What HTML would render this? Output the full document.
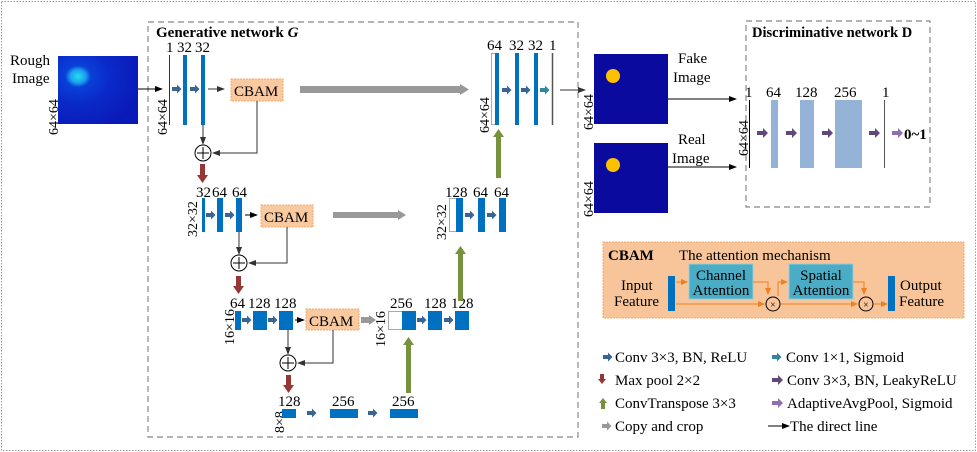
<!DOCTYPE html>
<html><head><meta charset="utf-8"><style>
html,body{margin:0;padding:0;background:#fff}
svg{display:block;font-family:"Liberation Serif",serif}
</style></head><body>
<svg width="977" height="452" viewBox="0 0 977 452" xmlns="http://www.w3.org/2000/svg">
<defs>
<marker id="ah" markerWidth="8" markerHeight="6" refX="7" refY="3" orient="auto" markerUnits="userSpaceOnUse"><path d="M0,0 L8,3 L0,6z" fill="#000"/></marker>
<marker id="ahg" markerWidth="8" markerHeight="6" refX="7" refY="3" orient="auto" markerUnits="userSpaceOnUse"><path d="M0,0 L8,3 L0,6z" fill="#333"/></marker>
<marker id="aho" markerWidth="7" markerHeight="6" refX="6" refY="3" orient="auto" markerUnits="userSpaceOnUse"><path d="M0,0 L7,3 L0,6z" fill="#f07f1e"/></marker>
<g id="rb"><path d="M0,-2 h5 v-2.5 l4.5,4.5 l-4.5,4.5 v-2.5 h-5z" fill="#3a6494"/></g>
<g id="tb"><path d="M0,-2 h5 v-2.5 l4.5,4.5 l-4.5,4.5 v-2.5 h-5z" fill="#31859c"/></g>
<g id="pb"><path d="M0,-2 h6 v-3 l5,5 l-5,5 v-3 h-6z" fill="#60497a"/></g>
<g id="lb"><path d="M0,-2 h6 v-3 l5,5 l-5,5 v-3 h-6z" fill="#8e6fb0"/></g>
</defs>
<rect x="1.5" y="1.5" width="974" height="449" fill="none" stroke="#999" stroke-dasharray="1.5,1.5"/>
<rect x="148" y="22" width="430" height="415" fill="none" stroke="#888" stroke-width="1.2" stroke-dasharray="6,4"/>
<rect x="746" y="21" width="184" height="186" fill="none" stroke="#888" stroke-width="1.2" stroke-dasharray="6,4"/>
<g font-size="15"><text x="156" y="37" font-weight="bold">Generative network  <tspan font-style="italic">G</tspan></text>
<text x="752" y="37" font-weight="bold" font-size="14.5">Discriminative network  D</text></g>

<defs><radialGradient id="rg" cx="0.25" cy="0.3" r="0.8"><stop offset="0" stop-color="#26e0e8"/><stop offset="0.12" stop-color="#1aa0f0"/><stop offset="0.2" stop-color="#0a40d8"/><stop offset="0.5" stop-color="#0a2ac8"/><stop offset="1" stop-color="#0a1ab8"/></radialGradient></defs>
<rect x="58" y="56" width="80" height="68" fill="url(#rg)"/>
<g font-size="15"><text x="10" y="65">Rough</text><text x="12" y="83">Image</text></g>
<g font-size="14">
<text transform="translate(58,135) rotate(-90)">64×64</text>
<text transform="translate(167,135) rotate(-90)">64×64</text>
<text transform="translate(197,237) rotate(-90)">32×32</text>
<text transform="translate(234,345) rotate(-90)">16×16</text>
<text transform="translate(284,433) rotate(-90)">8×8</text>
<text transform="translate(385,347) rotate(-90)">16×16</text>
<text transform="translate(446,240) rotate(-90)">32×32</text>
<text transform="translate(489,133) rotate(-90)">64×64</text>
<text transform="translate(593,130) rotate(-90)">64×64</text>
<text transform="translate(593,217) rotate(-90)">64×64</text>
<text transform="translate(748,156) rotate(-90)">64×64</text>
</g>
<line x1="138" y1="89" x2="162" y2="89" stroke="#000" marker-end="url(#ah)"/>

<!-- level1 left -->
<line x1="169.5" y1="55" x2="169.5" y2="125" stroke="#333"/>
<rect x="183" y="55" width="4" height="70" fill="#0070c0"/>
<rect x="201" y="55" width="4" height="70" fill="#0070c0"/>
<g font-size="15"><text x="166" y="52">1</text><text x="177" y="52">32</text><text x="195" y="52">32</text></g>
<use href="#rb" x="172" y="89"/><use href="#rb" x="190" y="89"/>
<line x1="208" y1="89" x2="224" y2="89" stroke="#333" marker-end="url(#ahg)"/>
<rect x="231" y="79" width="52" height="22" fill="#f9c9a0" stroke="#f5a86a" stroke-dasharray="2,1"/>
<text x="234" y="96" font-size="15">CBAM</text>
<rect x="300" y="86" width="160" height="7" fill="#999"/><path d="M460,84 l9,5.5 l-9,5.5z" fill="#999"/>
<line x1="203" y1="125" x2="203" y2="144" stroke="#333" marker-end="url(#ahg)"/>
<circle cx="203" cy="153" r="8" fill="#fff" stroke="#000"/><path d="M197,153 h12 M203,147 v12" stroke="#000"/>
<path d="M257,101 V153 H213" fill="none" stroke="#333" marker-end="url(#ahg)"/>
<rect x="200" y="164" width="5" height="12" fill="#953735"/><path d="M197,175 h11 l-5.5,8z" fill="#953735"/>

<!-- level2 left -->
<g font-size="15"><text x="196" y="197">32</text><text x="212" y="197">64</text><text x="232" y="197">64</text></g>
<rect x="202" y="198" width="3" height="34" fill="#0070c0"/>
<rect x="217" y="198" width="6" height="34" fill="#0070c0"/>
<rect x="236" y="198" width="6" height="34" fill="#0070c0"/>
<use href="#rb" x="206" y="215"/><use href="#rb" x="225" y="215"/>
<line x1="245" y1="215" x2="257" y2="215" stroke="#000" marker-end="url(#ah)"/>
<rect x="261" y="205" width="52" height="22" fill="#f9c9a0" stroke="#f5a86a" stroke-dasharray="2,1"/>
<text x="264" y="222" font-size="15">CBAM</text>
<rect x="333" y="212" width="66" height="6" fill="#999"/><path d="M398,210 l8,5 l-8,5z" fill="#999"/>
<line x1="239" y1="232" x2="239" y2="254" stroke="#333" marker-end="url(#ahg)"/>
<circle cx="239" cy="263" r="8" fill="#fff" stroke="#000"/><path d="M233,263 h12 M239,257 v12" stroke="#000"/>
<path d="M287,227 V263 H249" fill="none" stroke="#333" marker-end="url(#ahg)"/>
<rect x="236" y="276" width="5" height="11" fill="#953735"/><path d="M233,286 h11 l-5.5,8z" fill="#953735"/>

<!-- level3 -->
<g font-size="15"><text x="230" y="308">64</text><text x="248" y="308">128</text><text x="274" y="308">128</text></g>
<rect x="235" y="311" width="6" height="19" fill="#0070c0"/>
<rect x="253" y="311" width="14" height="19" fill="#0070c0"/>
<rect x="279" y="311" width="14" height="19" fill="#0070c0"/>
<use href="#rb" x="242" y="320"/><use href="#rb" x="268" y="320"/>
<line x1="295" y1="320" x2="304" y2="320" stroke="#000" marker-end="url(#ah)"/>
<rect x="306" y="309" width="53" height="21" fill="#f9c9a0" stroke="#f5a86a" stroke-dasharray="2,1"/>
<text x="309" y="326" font-size="15">CBAM</text>
<rect x="361" y="317" width="9" height="6" fill="#999"/><path d="M369,315 l7,5 l-7,5z" fill="#999"/>
<line x1="288" y1="330" x2="288" y2="354" stroke="#333" marker-end="url(#ahg)"/>
<circle cx="288" cy="363" r="8" fill="#fff" stroke="#000"/><path d="M282,363 h12 M288,357 v12" stroke="#000"/>
<path d="M333,330 V363 H298" fill="none" stroke="#333" marker-end="url(#ahg)"/>
<rect x="286" y="375" width="5" height="11" fill="#953735"/><path d="M283,385 h11 l-5.5,8z" fill="#953735"/>
<g font-size="15"><text x="390" y="308">256</text><text x="424" y="308">128</text><text x="451" y="308">128</text></g>
<rect x="388.5" y="311.5" width="14" height="18" fill="#fff" stroke="#aaa"/>
<rect x="402" y="311" width="14" height="19" fill="#0070c0"/>
<rect x="428" y="311" width="14" height="19" fill="#0070c0"/>
<rect x="455" y="311" width="14" height="19" fill="#0070c0"/>
<use href="#rb" x="417" y="320"/><use href="#rb" x="444" y="320"/>

<!-- level4 -->
<g font-size="15"><text x="278" y="406">128</text><text x="332" y="406">256</text><text x="392" y="406">256</text></g>
<rect x="282" y="409" width="14" height="9" fill="#0070c0"/>
<rect x="330" y="409" width="28" height="9" fill="#0070c0"/>
<rect x="390" y="409" width="28" height="9" fill="#0070c0"/>
<use href="#rb" x="307" y="413"/><use href="#rb" x="368" y="413"/>
<rect x="406" y="344" width="5" height="49" fill="#76923c"/><path d="M403,345 h11 l-5.5,-8z" fill="#76923c"/>

<!-- level2 right -->
<g font-size="15"><text x="445" y="197">128</text><text x="473" y="197">64</text><text x="494" y="197">64</text></g>
<rect x="449.5" y="198.5" width="7" height="33" fill="#fff" stroke="#aaa"/>
<rect x="456" y="198" width="7" height="34" fill="#0070c0"/>
<rect x="478" y="198" width="7" height="34" fill="#0070c0"/>
<rect x="499" y="198" width="7" height="34" fill="#0070c0"/>
<use href="#rb" x="465" y="215"/><use href="#rb" x="487" y="215"/>
<rect x="458" y="253" width="5" height="48" fill="#76923c"/><path d="M455,254 h11 l-5.5,-8z" fill="#76923c"/>
<rect x="496" y="136" width="5" height="42" fill="#76923c"/><path d="M493,137 h11 l-5.5,-8z" fill="#76923c"/>

<!-- level1 right -->
<g font-size="15"><text x="487" y="50">64</text><text x="509" y="50">32</text><text x="528" y="50">32</text><text x="549" y="50">1</text></g>
<rect x="491.5" y="53.5" width="6" height="71" fill="#fff" stroke="#aaa"/>
<rect x="495" y="53" width="4" height="72" fill="#0070c0"/>
<rect x="515" y="53" width="4" height="72" fill="#0070c0"/>
<rect x="534" y="53" width="4" height="72" fill="#0070c0"/>
<line x1="552.5" y1="53" x2="552.5" y2="125" stroke="#555" stroke-width="1.5"/>
<use href="#rb" x="502" y="90"/><use href="#rb" x="521" y="90"/><use href="#tb" x="540" y="90"/>
<line x1="560" y1="90" x2="585" y2="90" stroke="#333" marker-end="url(#ahg)"/>

<!-- fake/real -->
<rect x="594" y="54" width="74" height="70" fill="#0a0a9e"/><circle cx="613" cy="76" r="7" fill="#ffc000"/>
<rect x="594" y="143" width="74" height="70" fill="#0a0a9e"/><circle cx="613" cy="165" r="7" fill="#ffc000"/>
<g font-size="15"><text x="678" y="63">Fake</text><text x="673" y="82">Image</text><text x="678" y="144">Real</text><text x="672" y="163">Image</text></g>
<line x1="668" y1="99" x2="736" y2="99" stroke="#000" marker-end="url(#ah)"/>
<line x1="668" y1="167" x2="736" y2="167" stroke="#000" marker-end="url(#ah)"/>

<!-- D -->
<g font-size="15"><text x="745" y="97">1</text><text x="766" y="97">64</text><text x="795" y="97">128</text><text x="834" y="97">256</text><text x="882" y="97">1</text></g>
<line x1="749.5" y1="100" x2="749.5" y2="168" stroke="#000"/>
<rect x="771" y="100" width="7" height="68" fill="#95b3d7"/>
<rect x="800" y="100" width="14" height="68" fill="#95b3d7"/>
<rect x="835" y="100" width="27" height="68" fill="#95b3d7"/>
<line x1="884.5" y1="100" x2="884.5" y2="168" stroke="#555"/>
<use href="#pb" x="757" y="133"/><use href="#pb" x="786" y="133"/><use href="#pb" x="822" y="133"/><use href="#pb" x="869" y="133"/><use href="#lb" x="892" y="133"/>
<text x="904" y="139" font-size="15" font-weight="bold">0~1</text>

<!-- CBAM legend -->
<rect x="603" y="242" width="361" height="76" fill="#f8c59a" stroke="#f5a86a" stroke-dasharray="2,1"/>
<text x="608" y="260" font-size="15" font-weight="bold">CBAM</text>
<text x="679" y="260" font-size="15">The attention mechanism</text>
<g font-size="15"><text x="621" y="290">Input</text><text x="614" y="306">Feature</text><text x="900" y="290">Output</text><text x="899" y="306">Feature</text></g>
<rect x="668" y="276" width="7" height="35" fill="#0070c0"/>
<rect x="689" y="264" width="64" height="35" fill="#4bacc6" stroke="#8fcfdf"/>
<rect x="789" y="264" width="64" height="35" fill="#4bacc6" stroke="#8fcfdf"/>
<g font-size="15" text-anchor="middle"><text x="721" y="280">Channel</text><text x="721" y="295">Attention</text><text x="821" y="280">Spatial</text><text x="821" y="295">Attention</text></g>
<g stroke="#f07f1e" fill="none">
<line x1="676" y1="282" x2="687" y2="282" marker-end="url(#aho)"/>
<line x1="676" y1="304" x2="764" y2="304" marker-end="url(#aho)"/>
<path d="M753,282 H768 V294" marker-end="url(#aho)"/>
<path d="M778,296 V282 H787" marker-end="url(#aho)"/>
<line x1="781" y1="304" x2="857" y2="304" marker-end="url(#aho)"/>
<path d="M853,282 H864 V294" marker-end="url(#aho)"/>
<line x1="874" y1="304" x2="887" y2="304" marker-end="url(#aho)"/>
</g>
<rect x="888" y="276" width="7" height="35" fill="#0070c0"/>
<circle cx="773" cy="304" r="7" fill="#f8c59a" stroke="#000"/><text x="773" y="308" font-size="10" text-anchor="middle">×</text>
<circle cx="866" cy="304" r="7" fill="#f8c59a" stroke="#000"/><text x="866" y="308" font-size="10" text-anchor="middle">×</text>

<!-- legend -->
<g font-size="15">
<use href="#rb" x="603" y="357"/><text x="615" y="362">Conv 3×3, BN, ReLU</text>
<rect x="600" y="374" width="4" height="6" fill="#953735"/><path d="M598,379 h8 l-4,5z" fill="#953735"/><text x="615" y="385">Max pool 2×2</text>
<rect x="601" y="402" width="4" height="7" fill="#76923c"/><path d="M599,403 h8 l-4,-5z" fill="#76923c"/><text x="615" y="408">ConvTranspose 3×3</text>
<path d="M602,424 h5 v-2.5 l4.5,4.5 l-4.5,4.5 v-2.5 h-5z" fill="#999"/><text x="615" y="431">Copy and crop</text>
<use href="#tb" x="772" y="357"/><text x="786" y="362">Conv 1×1, Sigmoid</text>
<use href="#pb" x="772" y="380"/><text x="787" y="385">Conv 3×3, BN, LeakyReLU</text>
<use href="#lb" x="772" y="403"/><text x="787" y="408">AdaptiveAvgPool, Sigmoid</text>
<line x1="768" y1="426" x2="789" y2="426" stroke="#000" marker-end="url(#ah)"/><text x="790" y="431">The direct line</text>
</g>
</svg>
</body></html>
